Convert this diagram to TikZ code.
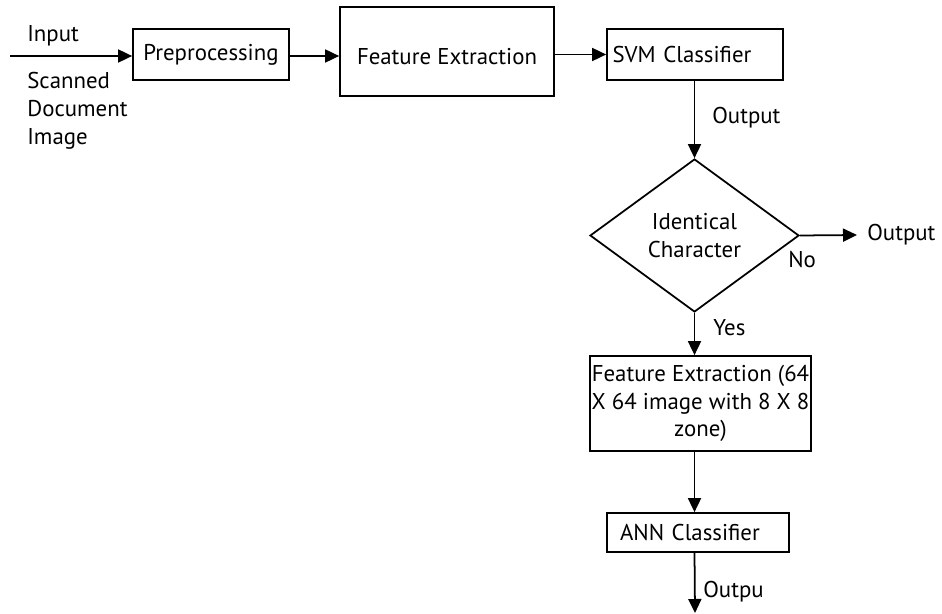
\documentclass[tikz,border=0pt]{standalone}
\usepackage{fontspec}
\setmainfont{PT Sans}
\usetikzlibrary{arrows.meta, positioning, shapes.geometric}

\begin{document}
\begin{tikzpicture}[x=0.02cm, y=-0.02cm,
  font=\fontsize{13}{15.8}\selectfont,
  blockbox/.style={draw, line width=1pt, inner sep=2pt},
  flow/.style={-{Triangle[length=0.28cm, width=0.26cm]}, line width=1pt},
  lbl/.style={anchor=base west, inner sep=0}]
  \useasboundingbox (0,0) rectangle (942,614);

  % Input
  \coordinate (start) at (10,56);
  \node[lbl] (inlbl) at (27,42) {Input};
  \node[anchor=north west, inner sep=0, align=left] (scanlbl) at (27,72) {Scanned\\Document\\Image};

  % Top row -- Preprocessing, Feature Extraction, SVM Classifier
  \node[blockbox, minimum width=3.12cm, minimum height=1.02cm] (pre) at (211,54.5) {Preprocessing};
  \node[blockbox, minimum width=4.28cm, minimum height=1.78cm, text height=0.52cm] (feat) at (447,51.5) {Feature Extraction};
  \node[blockbox, minimum width=3.52cm, minimum height=1.02cm, text width=3.3cm, align=left, inner xsep=0.11cm] (svm) at (695,54.5) {SVM Classifier};

  % Decision
  \node[draw, diamond, line width=1pt, inner sep=0, minimum width=4.18cm, minimum height=3.06cm, align=center] (dec) at (694.5,235.5) {Identical\\Character};
  \node[anchor=west, inner xsep=0.2cm] (outr) at (857,235) {Output};
  \node[lbl] (svmout) at (712,124) {Output};
  \node[lbl] (nolbl) at (788,268) {No};
  \node[lbl] (yeslbl) at (713,336) {Yes};

  % Second stage -- zone features, ANN Classifier
  \node[blockbox, minimum width=4.42cm, minimum height=1.9cm, align=center, inner xsep=0.01cm] (zone) at (700.5,403.5) {Feature Extraction (64\\X 64 image with 8 X 8\\zone)};
  \node[blockbox, minimum width=3.64cm, minimum height=0.78cm, text width=3.12cm, align=left, inner xsep=0.26cm] (ann) at (698,532.5) {ANN Classifier};
  \coordinate (endp) at (695,613);
  \node[lbl] (annout) at (703,597) {Outpu};

  % Connectors
  \draw[flow] (start) -- (pre.west |- start);
  \draw[flow] (pre.east |- start) -- (feat.west |- start);
  \draw[flow] (feat.east |- svm.west) -- (svm.west);
  \draw[flow] (svm.south -| dec.north) -- (dec.north);
  \draw[flow] (dec.east) -- (outr.west);
  \draw[flow] (dec.south) -- (dec.south |- zone.north);
  \draw[flow] (dec.south |- zone.south) -- (dec.south |- ann.north);
  \draw[flow] (dec.south |- ann.south) -- (endp);
\end{tikzpicture}
\end{document}
